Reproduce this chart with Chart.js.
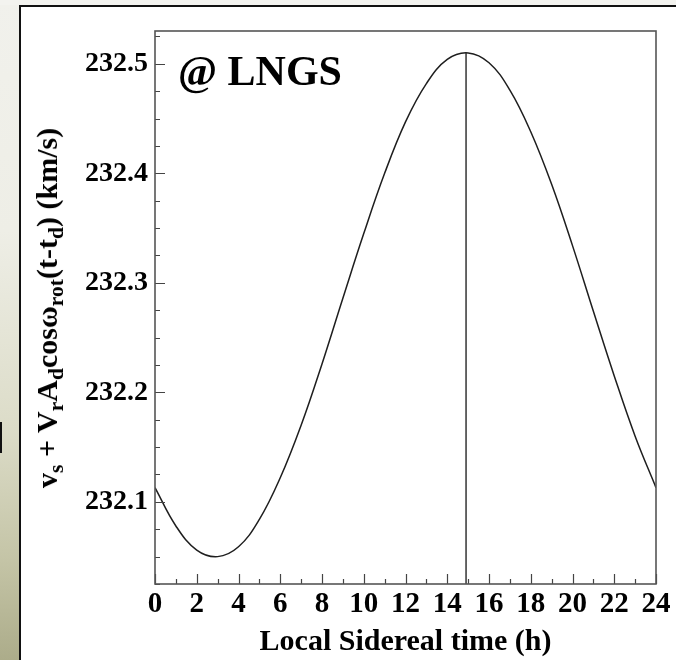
<!DOCTYPE html>
<html>
<head>
<meta charset="utf-8">
<script src="https://cdn.jsdelivr.net/npm/chart.js@4/dist/chart.umd.min.js"></script>
<style>
  body { margin: 0; width: 676px; height: 660px; position: relative; overflow: hidden; background: #fff; }
  #side { position: absolute; left: 0; top: 0; width: 19px; height: 660px;
    background: linear-gradient(to bottom, #f1f1ec 0%, #eeeee6 35%, #dcdcc8 65%, #c4c4a6 85%, #acac8a 100%); }
  #topband { position: absolute; left: 0; top: 0; width: 676px; height: 5px; background: #f3f3ef; }
  #frame { position: absolute; left: 19px; top: 5px; right: 0; bottom: 0;
    border-left: 2px solid #111; border-top: 2px solid #111; }
  #mark { position: absolute; left: 0; top: 422px; width: 2px; height: 31px; background: #111; }
  #chart { position: absolute; left: 0; top: 0; }
  #ylab { position: absolute; left: 47px; top: 308px; white-space: nowrap;
    font: bold 30px "Liberation Serif", serif; line-height: 30px; color: #000;
    transform: translate(-50%, -50%) rotate(-90deg); }
  #ylab sub { font-size: 0.72em; vertical-align: -0.28em; line-height: 0; }
</style>
</head>
<body>
<div id="side"></div>
<div id="topband"></div>
<div id="frame"></div>
<div id="mark"></div>
<canvas id="chart" width="676" height="660"></canvas>
<div id="ylab">v<sub>s</sub> + V<sub>r</sub>A<sub>d</sub>cosω<sub>rot</sub>(t-t<sub>d</sub>) (km/s)</div>
<script>
// local sidereal time (h) and the daily modulated speed (km/s)
const hours = [0, 1, 2, 3, 4, 5, 6, 7, 8, 9, 10, 11, 12, 13, 14, 15, 16, 17, 18, 19, 20, 21, 22, 23, 24];
const speed = [232.113, 232.078, 232.056, 232.050, 232.059, 232.084, 232.122, 232.170, 232.226,
               232.286, 232.345, 232.400, 232.447, 232.482, 232.504, 232.510, 232.501, 232.476,
               232.438, 232.390, 232.334, 232.274, 232.215, 232.160, 232.113];

// vertical marker at t_d
const markerTime = [14.9, 14.9];
const markerSpeed = [232.025, 232.51];

const xTicks = [0, 2, 4, 6, 8, 10, 12, 14, 16, 18, 20, 22, 24];
const yTicks = [232.1, 232.2, 232.3, 232.4, 232.5];
const yMin = 232.025, yMax = 232.53;

// ROOT style box with inward ticks on the left and bottom axes
const rootFrame = {
  id: 'rootFrame',
  afterDatasetsDraw(chart) {
    const ctx = chart.ctx;
    const a = chart.chartArea;
    const x = chart.scales.x, y = chart.scales.y;
    ctx.save();
    ctx.strokeStyle = '#444';
    ctx.lineWidth = 1.2;
    ctx.beginPath();
    for (let h = 0; h <= 24; h++) {
      const px = Math.round(x.getPixelForValue(h)) + 0.5;
      const len = h % 2 ? 5 : 10;
      ctx.moveTo(px, a.bottom);
      ctx.lineTo(px, a.bottom - len);
    }
    for (let i = 0; i <= 24; i++) {
      const v = 232.0 + i * 0.025;
      if (v < yMin || v > yMax) continue;
      const py = Math.round(y.getPixelForValue(v)) + 0.5;
      const len = i % 4 ? 5 : 10;
      ctx.moveTo(a.left, py);
      ctx.lineTo(a.left + len, py);
    }
    ctx.stroke();
    ctx.lineWidth = 1.6;
    ctx.strokeStyle = '#555';
    ctx.strokeRect(a.left, a.top, a.right - a.left, a.bottom - a.top);

    ctx.fillStyle = '#000';
    ctx.font = 'bold 42px "Liberation Serif", serif';
    ctx.textBaseline = 'alphabetic';
    ctx.fillText('@ LNGS', a.left + 23, a.top + 54);
    ctx.restore();
  }
};

new Chart(document.getElementById('chart'), {
  type: 'line',
  data: {
    datasets: [{
      data: hours.map((h, i) => ({ x: h, y: speed[i] })),
      borderColor: '#1e1e1e',
      borderWidth: 1.5,
      pointRadius: 0,
      tension: 0.4,
      fill: false
    }, {
      data: markerTime.map((h, i) => ({ x: h, y: markerSpeed[i] })),
      borderColor: '#000',
      borderWidth: 1.2,
      pointRadius: 0,
      tension: 0,
      fill: false
    }]
  },
  options: {
    responsive: false,
    animation: false,
    events: [],
    layout: { padding: { top: 31, right: 20, left: 0, bottom: 0 } },
    plugins: { legend: { display: false }, tooltip: { enabled: false } },
    scales: {
      x: {
        type: 'linear',
        min: 0,
        max: 24,
        afterBuildTicks: s => { s.ticks = xTicks.map(v => ({ value: v })); },
        afterFit: s => { s.height = 76; },
        grid: { display: false, drawTicks: false },
        border: { display: false },
        ticks: {
          color: '#000',
          font: { family: '"Liberation Serif", serif', size: 29, weight: 'bold' },
          padding: 3,
          maxRotation: 0,
          autoSkip: false
        },
        title: {
          display: true,
          text: 'Local Sidereal time (h)',
          color: '#000',
          font: { family: '"Liberation Serif", serif', size: 30, weight: 'bold' },
          padding: { top: 0, bottom: 0 }
        }
      },
      y: {
        type: 'linear',
        min: yMin,
        max: yMax,
        afterBuildTicks: s => { s.ticks = yTicks.map(v => ({ value: v })); },
        afterFit: s => { s.width = 155; },
        grid: { display: false, drawTicks: false },
        border: { display: false },
        ticks: {
          color: '#000',
          font: { family: '"Liberation Serif", serif', size: 28, weight: 'bold' },
          padding: 7,
          callback: v => v.toFixed(1)
        }
      }
    }
  },
  plugins: [rootFrame]
});
</script>
</body>
</html>
